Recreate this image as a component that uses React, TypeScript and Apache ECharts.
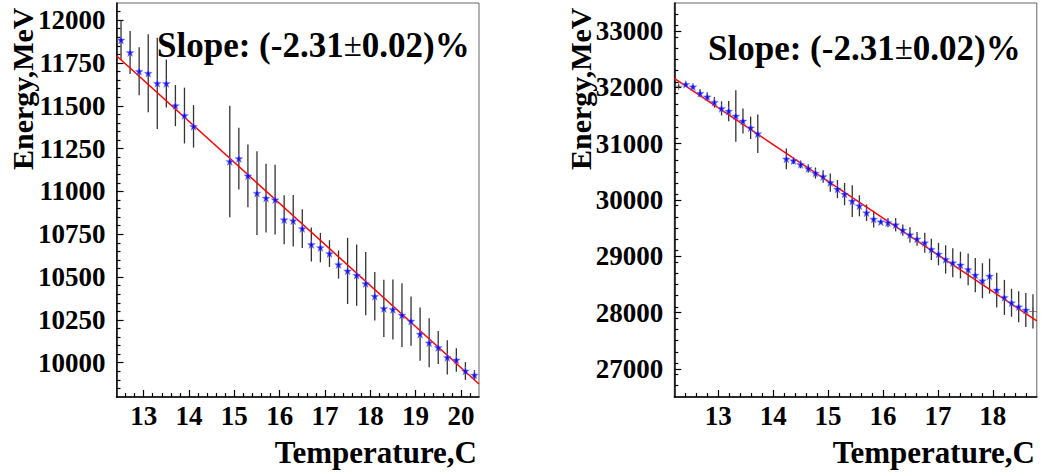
import React, { useEffect, useRef } from "react";
import * as echarts from "echarts";

// ---------- data ----------
const leftT = [12.5, 12.7, 12.9, 13.1, 13.3, 13.5, 13.7, 13.9, 14.1, 14.9, 15.1, 15.3, 15.5, 15.7, 15.9, 16.1, 16.3, 16.5, 16.7, 16.9, 17.1, 17.3, 17.5, 17.7, 17.9, 18.1, 18.3, 18.5, 18.7, 18.9, 19.1, 19.3, 19.5, 19.7, 19.9, 20.1, 20.3];
const leftE = [11884, 11811, 11701, 11690, 11631, 11630, 11501, 11443, 11380, 11175, 11192, 11091, 10990, 10961, 10952, 10835, 10829, 10783, 10690, 10672, 10637, 10573, 10536, 10511, 10462, 10388, 10317, 10311, 10278, 10243, 10167, 10116, 10089, 10031, 10016, 9952, 9928];
const leftErr = [115, 125, 140, 228, 266, 140, 120, 163, 124, 325, 180, 183, 245, 200, 204, 143, 150, 113, 99, 86, 78, 82, 193, 179, 185, 142, 167, 175, 186, 144, 155, 143, 97, 100, 68, 52, 29];
const leftFitT = [12.4, 20.4];
const leftFitE = [11792, 9876];

const rightT = [12.41, 12.54, 12.67, 12.8, 12.93, 13.06, 13.19, 13.32, 13.45, 13.59, 13.72, 14.24, 14.37, 14.5, 14.64, 14.77, 14.91, 15.04, 15.17, 15.3, 15.44, 15.57, 15.7, 15.83, 15.96, 16.09, 16.23, 16.36, 16.49, 16.62, 16.76, 16.88, 17.01, 17.14, 17.27, 17.41, 17.55, 17.68, 17.81, 17.94, 18.07, 18.21, 18.34, 18.47, 18.6];
const rightE = [32055, 32011, 31896, 31833, 31736, 31627, 31579, 31493, 31404, 31282, 31177, 30730, 30698, 30632, 30561, 30478, 30418, 30310, 30194, 30105, 29980, 29897, 29773, 29661, 29613, 29598, 29560, 29465, 29382, 29309, 29240, 29123, 29039, 28945, 28885, 28844, 28767, 28666, 28565, 28648, 28400, 28270, 28174, 28103, 28044];
const rightErr = [30, 30, 70, 80, 95, 125, 178, 458, 222, 200, 340, 185, 60, 68, 74, 98, 112, 163, 160, 198, 281, 187, 148, 148, 30, 80, 118, 98, 136, 124, 178, 190, 200, 252, 258, 237, 281, 305, 311, 311, 308, 311, 249, 275, 302];
const rightEdgeT = [12.28, 18.73];
const rightEdgeE = [32023, 28021];
const rightEdgeErr = [30, 305];
const rightFitT = [12.2, 18.8];
const rightFitE = [32160, 27851];

const leftXTicks = [13, 14, 15, 16, 17, 18, 19, 20];
const leftYTicks = [10000, 10250, 10500, 10750, 11000, 11250, 11500, 11750, 12000];
const rightXTicks = [13, 14, 15, 16, 17, 18];
const rightYTicks = [27000, 28000, 29000, 30000, 31000, 32000, 33000];

const slopeText = "{b|Slope: (-2.31}{n|±}{b|0.02)%}";
const xTitle = "Temperature,C";
const yTitle = "Energy,MeV";

// ---------- helpers ----------
function minorTicks(min: number, max: number, step: number, majors: number[]) {
  const out: number[] = [];
  const n = Math.round((max - min) / step);
  for (let i = 1; i < n; i++) {
    const v = Math.round((min + i * step) * 1000) / 1000;
    if (!majors.some((m) => Math.abs(m - v) < 1e-6)) out.push(v);
  }
  return out;
}

const FONT = "Liberation Serif";
const STAR = "path://M0,-10 L2.35,-3.24 9.51,-3.09 3.8,1.24 5.88,8.09 0,4 -5.88,8.09 -3.8,1.24 -9.51,-3.09 -2.35,-3.24 Z";
const PLUS = "path://M-1,-10 H1 V-1 H10 V1 H1 V10 H-1 V1 H-10 V-1 H-1 Z";
const plain = (v: number) => String(v);

function majorX(grid: number, min: number, max: number, ticks: number[]) {
  return {
    gridIndex: grid, type: "value", min, max, position: "bottom",
    axisLine: { show: true, lineStyle: { color: "#000", width: 1.5 } },
    axisTick: { show: true, inside: true, length: 7, customValues: ticks, lineStyle: { color: "#000", width: 1.2 } },
    axisLabel: { show: true, customValues: ticks, formatter: plain, margin: 5, color: "#000", fontFamily: FONT, fontWeight: "bold", fontSize: 27 },
    splitLine: { show: false },
  };
}
function minorX(grid: number, min: number, max: number, ticks: number[]) {
  return {
    gridIndex: grid, type: "value", min, max, position: "bottom",
    axisLine: { show: false },
    axisTick: { show: true, inside: true, length: 4, customValues: ticks, lineStyle: { color: "#000", width: 1.2 } },
    axisLabel: { show: false },
    splitLine: { show: false },
  };
}
function majorY(grid: number, min: number, max: number, ticks: number[]) {
  return {
    gridIndex: grid, type: "value", min, max, position: "left",
    axisLine: { show: true, lineStyle: { color: "#000", width: 1.5 } },
    axisTick: { show: true, inside: true, length: 7, customValues: ticks, lineStyle: { color: "#000", width: 1.2 } },
    axisLabel: { show: true, customValues: ticks, formatter: plain, margin: 11, color: "#000", fontFamily: FONT, fontWeight: "bold", fontSize: 27 },
    splitLine: { show: false },
  };
}
function minorY(grid: number, min: number, max: number, ticks: number[]) {
  return {
    gridIndex: grid, type: "value", min, max, position: "left",
    axisLine: { show: false },
    axisTick: { show: true, inside: true, length: 4, customValues: ticks, lineStyle: { color: "#000", width: 1.2 } },
    axisLabel: { show: false },
    splitLine: { show: false },
  };
}

function errorSeries(xi: number, yi: number, data: number[][]) {
  return {
    type: "custom", xAxisIndex: xi, yAxisIndex: yi, z: 2,
    data,
    renderItem: (params: any, api: any) => {
      const x = api.value(0), y = api.value(1), e = api.value(2);
      const p1 = api.coord([x, y + e]);
      const p2 = api.coord([x, y - e]);
      return { type: "line", shape: { x1: p1[0], y1: p1[1], x2: p2[0], y2: p2[1] }, style: { stroke: "#333", lineWidth: 1.3 } };
    },
  };
}

export default function App() {
  const ref = useRef<HTMLDivElement>(null);
  useEffect(() => {
    if (!ref.current) return;
    const chart = echarts.init(ref.current, null, { renderer: "svg" });

    const L = { min: 12.4, max: 20.4, ymin: 9800, ymax: 12100 };
    const R = { min: 12.2, max: 18.8, ymin: 26500, ymax: 33500 };

    const leftPts = leftT.map((t, i) => [t, leftE[i]]);
    const leftErrData = leftT.map((t, i) => [t, leftE[i], leftErr[i]]);
    const rightPts = rightT.map((t, i) => [t, rightE[i]]);
    const rightErrData = rightT.map((t, i) => [t, rightE[i], rightErr[i]])
      .concat(rightEdgeT.map((t, i) => [t, rightEdgeE[i], rightEdgeErr[i]]));
    const rightEdgePts = rightEdgeT.map((t, i) => [t, rightEdgeE[i]]);

    const titleRich = {
      b: { fontFamily: FONT, fontWeight: "bold", fontSize: 35, fill: "#000" },
      n: { fontFamily: FONT, fontWeight: "normal", fontSize: 33, fill: "#000" },
    };
    const axisTitleStyle = { fontFamily: FONT, fontWeight: "bold", fontSize: 30, fill: "#000" };

    const option: any = {
      animation: false,
      backgroundColor: "#fff",
      grid: [
        { left: 116.5, top: 3, width: 362.5, height: 394, show: true, borderColor: "#666", borderWidth: 1, backgroundColor: "transparent" },
        { left: 674.3, top: 3, width: 362.5, height: 394, show: true, borderColor: "#666", borderWidth: 1, backgroundColor: "transparent" },
      ],
      xAxis: [
        majorX(0, L.min, L.max, leftXTicks),
        minorX(0, L.min, L.max, minorTicks(L.min, L.max, 0.2, leftXTicks)),
        majorX(1, R.min, R.max, rightXTicks),
        minorX(1, R.min, R.max, minorTicks(R.min, R.max, 0.2, rightXTicks)),
      ],
      yAxis: [
        majorY(0, L.ymin, L.ymax, leftYTicks),
        minorY(0, L.ymin, L.ymax, minorTicks(L.ymin, L.ymax, 50, leftYTicks)),
        majorY(1, R.ymin, R.ymax, rightYTicks),
        minorY(1, R.ymin, R.ymax, minorTicks(R.ymin, R.ymax, 200, rightYTicks)),
      ],
      series: [
        errorSeries(0, 0, leftErrData),
        {
          type: "line", xAxisIndex: 0, yAxisIndex: 0, z: 3,
          data: leftFitT.map((t, i) => [t, leftFitE[i]]),
          showSymbol: false, symbol: "none",
          lineStyle: { color: "#ff0000", width: 1.5 },
        },
        {
          type: "scatter", xAxisIndex: 0, yAxisIndex: 0, z: 4,
          data: leftPts, symbol: STAR, symbolSize: 8,
          itemStyle: { color: "#0000ff", borderColor: "#8a8aff", borderWidth: 0.5 },
        },
        errorSeries(2, 2, rightErrData),
        {
          type: "line", xAxisIndex: 2, yAxisIndex: 2, z: 3,
          data: rightFitT.map((t, i) => [t, rightFitE[i]]),
          showSymbol: false, symbol: "none",
          lineStyle: { color: "#ff0000", width: 1.5 },
        },
        {
          type: "scatter", xAxisIndex: 2, yAxisIndex: 2, z: 4,
          data: rightPts, symbol: STAR, symbolSize: 8,
          itemStyle: { color: "#0000ff", borderColor: "#8a8aff", borderWidth: 0.5 },
        },
        {
          type: "scatter", xAxisIndex: 2, yAxisIndex: 2, z: 4,
          data: rightEdgePts, symbol: PLUS, symbolSize: 8,
          itemStyle: { color: "#444" },
        },
      ],
      graphic: [
        { type: "text", x: 157, y: 45, style: { text: slopeText, rich: titleRich, verticalAlign: "middle", align: "left" } },
        { type: "text", x: 708, y: 48, style: { text: slopeText, rich: titleRich, verticalAlign: "middle", align: "left" } },
        { type: "text", x: 477, y: 452, style: { ...axisTitleStyle, fontSize: 31, text: xTitle, align: "right", verticalAlign: "middle" } },
        { type: "text", x: 1035, y: 452, style: { ...axisTitleStyle, fontSize: 31, text: xTitle, align: "right", verticalAlign: "middle" } },
        { type: "text", x: 22, y: 170, rotation: Math.PI / 2, style: { ...axisTitleStyle, text: yTitle, align: "left", verticalAlign: "middle" } },
        { type: "text", x: 580, y: 170, rotation: Math.PI / 2, style: { ...axisTitleStyle, text: yTitle, align: "left", verticalAlign: "middle" } },
      ],
    };
    chart.setOption(option);
    return () => chart.dispose();
  }, []);
  return <div ref={ref} style={{ position: "absolute", left: 0, top: 0, width: 1041, height: 472 }} />;
}
